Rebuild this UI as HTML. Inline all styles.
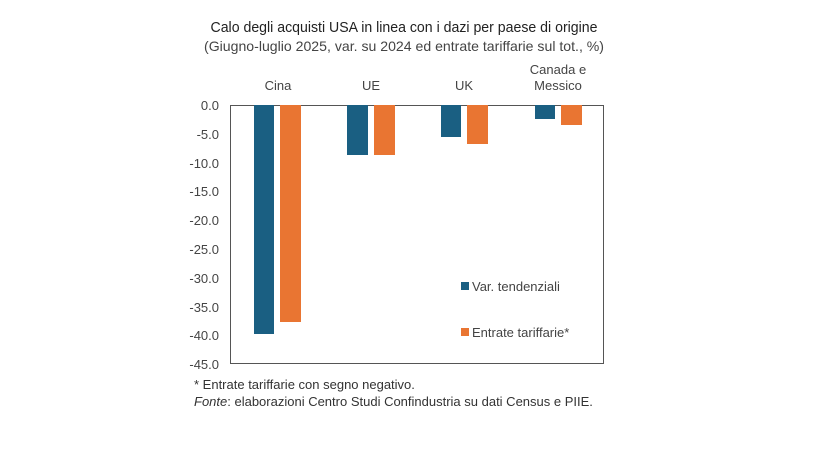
<!DOCTYPE html>
<html><head><meta charset="utf-8"><style>
body{margin:0;background:#fff}
svg{display:block}
text{font-family:"Liberation Sans",sans-serif}
</style></head><body>
<svg width="825" height="451" viewBox="0 0 825 451">
<text x="404" y="32" font-size="15" fill="#222" text-anchor="middle" textLength="387" lengthAdjust="spacingAndGlyphs">Calo degli acquisti USA in linea con i dazi per paese di origine</text>
<text x="404" y="51" font-size="14" fill="#444" text-anchor="middle" textLength="400" lengthAdjust="spacingAndGlyphs">(Giugno-luglio 2025, var. su 2024 ed entrate tariffarie sul tot., %)</text>
<g font-size="13" fill="#444" text-anchor="middle">
<text x="278" y="90">Cina</text>
<text x="371" y="90">UE</text>
<text x="464" y="90">UK</text>
<text x="558" y="74">Canada e</text>
<text x="558" y="90">Messico</text>
</g>
<rect x="230.5" y="105.5" width="373" height="258" fill="none" stroke="#555" stroke-width="1"/>
<g font-size="13" fill="#444" text-anchor="end">
<text x="219" y="110">0.0</text>
<text x="219" y="139">-5.0</text>
<text x="219" y="168">-10.0</text>
<text x="219" y="196">-15.0</text>
<text x="219" y="225">-20.0</text>
<text x="219" y="254">-25.0</text>
<text x="219" y="283">-30.0</text>
<text x="219" y="312">-35.0</text>
<text x="219" y="340">-40.0</text>
<text x="219" y="369">-45.0</text>
</g>
<g fill="#1a5f82">
<rect x="254" y="105" width="20" height="229"/>
<rect x="347" y="105" width="21" height="50"/>
<rect x="441" y="105" width="20" height="32"/>
<rect x="535" y="105" width="20" height="14"/>
</g>
<g fill="#e97532">
<rect x="280" y="105" width="21" height="217"/>
<rect x="374" y="105" width="21" height="50"/>
<rect x="467" y="105" width="21" height="39"/>
<rect x="561" y="105" width="21" height="20"/>
</g>
<rect x="461" y="282" width="8" height="8" fill="#1a5f82"/>
<text x="472" y="291" font-size="13" fill="#444">Var. tendenziali</text>
<rect x="461" y="328" width="8" height="8" fill="#e97532"/>
<text x="472" y="337" font-size="13" fill="#444">Entrate tariffarie*</text>
<text x="194" y="389" font-size="13" fill="#333">* Entrate tariffarie con segno negativo.</text>
<text x="194" y="406" font-size="13" fill="#333"><tspan font-style="italic">Fonte</tspan>: elaborazioni Centro Studi Confindustria su dati Census e PIIE.</text>
</svg>
</body></html>
